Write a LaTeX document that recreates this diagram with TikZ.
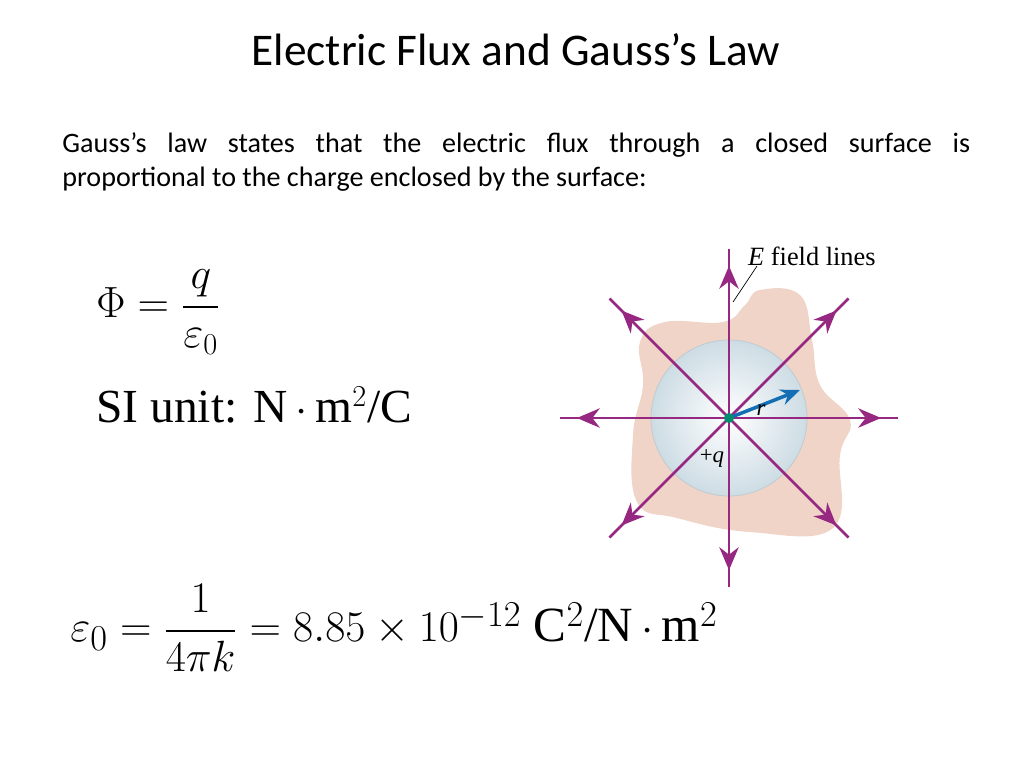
\documentclass[tikz,border=0pt]{standalone}
\usepackage{fontspec}
\usepackage{amsmath}
\setmainfont{Carlito}
\newfontfamily\figfont{Liberation Serif}
\usetikzlibrary{arrows.meta,decorations.markings}
\definecolor{fieldcol}{RGB}{150,40,130}
\definecolor{blobcol}{RGB}{240,212,200}
\definecolor{ballcol}{RGB}{205,220,228}
\definecolor{rcol}{RGB}{20,110,180}
\definecolor{qcol}{RGB}{0,140,110}
\tikzset{
  fieldline/.style={draw=fieldcol, line width=1.5pt, postaction={decorate},
    decoration={markings, mark=at position 0.9 with {\arrow{Stealth[length=13pt,width=11pt]}}}},
  body/.style={font=\fontsize{16}{19.5}\selectfont, align=justify, text width=18.16cm, anchor=north west, inner sep=0pt},
  eq/.style={anchor=west, inner sep=0pt, font=\figfont\fontsize{27}{30}\selectfont}
}
\begin{document}
\begin{tikzpicture}[x=0.02cm, y=-0.02cm]
	\useasboundingbox (0,0) rectangle (1024,768);
	\node[font=\fontsize{25.8}{30}\selectfont] (title) at (516,50) {Electric Flux and Gauss’s Law};
	\node[body] (text) at (62,132) {Gauss’s law states that the electric flux through a closed surface is\linebreak proportional to the charge enclosed by the surface:};
	% equations
	\node[eq] (flux) at (96,312) {$\Phi = \dfrac{q}{\varepsilon_0}$};
	\node[eq] (unit) at (96,405) {SI unit: N\,$\cdot$\,m$^2$/C};
	\node[eq, font=\figfont\fontsize{28}{30}\selectfont] (eps) at (70,628) {$\varepsilon_0 = \dfrac{1}{4\pi k} = 8.85\times 10^{-12}$ C$^2$/N\,$\cdot$\,m$^2$};
	% surface and sphere
	\fill[blobcol] plot[smooth cycle, tension=0.7] coordinates {(760,290) (800,295) (812,340) (820,385) (850,420) (840,455) (833,528) (750,532) (677,518) (637,502) (633,435) (643,385) (640,342) (665,322) (723,322) (745,305)};
	\shade[inner color=white, outer color=ballcol, draw=ballcol!80!gray] (729,418) circle (78);
	\coordinate (q) at (729,418);
	% field lines
	\foreach \a in {0,45,...,315}
		\draw[fieldline] (q) -- ++(\a:169);
	\draw[rcol, line width=2pt, -{Stealth[length=11pt,width=9pt]}] (q) -- (800,390);
	\fill[qcol] (q) circle (5);
	\node[font=\figfont\itshape\fontsize{13}{15}\selectfont] (r) at (761,410) {r};
	\node[font=\figfont\fontsize{13}{15}\selectfont] (plusq) at (712,458) {+\textit{q}};
	\node[font=\figfont\fontsize{15}{18}\selectfont, anchor=west] (elabel) at (742,256) {\textit{E} field lines};
	\draw[black, thin] (757,266) -- (733,302);
\end{tikzpicture}
\end{document}
